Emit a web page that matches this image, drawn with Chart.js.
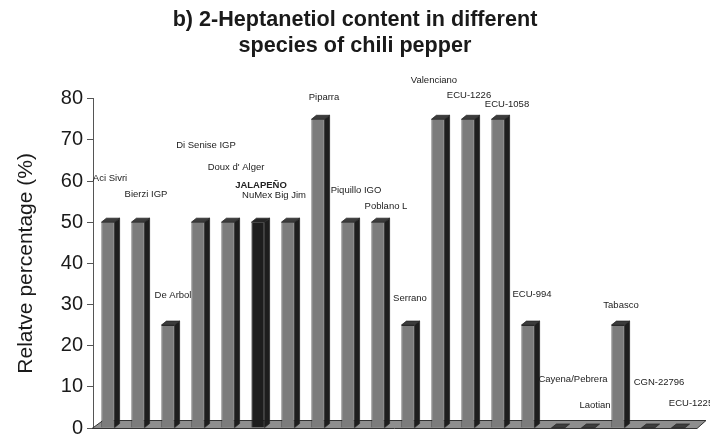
<!DOCTYPE html>
<html>
<head>
<meta charset="utf-8">
<script src="https://cdn.jsdelivr.net/npm/chart.js@4.4.0/dist/chart.umd.min.js"></script>
<style>
  html, body { margin: 0; padding: 0; background: #fff; }
  #wrap { width: 710px; height: 434px; }
</style>
</head>
<body>
<div id="wrap"><canvas id="chili"></canvas></div>
<script>
const varieties = ['Aci Sivri', 'Bierzi IGP', 'De Arbol', 'Di Senise IGP', "Doux d' Alger", 'JALAPEÑO',
  'NuMex Big Jim', 'Piparra', 'Piquillo IGO', 'Poblano L', 'Serrano', 'Valenciano', 'ECU-1226',
  'ECU-1058', 'ECU-994', 'Cayena/Pebrera', 'Laotian', 'Tabasco', 'CGN-22796', 'ECU-1225'];
const heptanetiol = [50, 50, 25, 50, 50, 50, 50, 75, 50, 50, 25, 75, 75, 75, 25, 0, 0, 25, 0, 0];
const yTickValues = [0, 10, 20, 30, 40, 50, 60, 70, 80];
const highlighted = 'JALAPEÑO';

// name labels float at their own heights (y-scale units) with a small sideways nudge (px)
const nameLevel = [60.6, 56.7, 32.1, 68.6, 63.3, 58.9, 56.4, 80.3, 57.7, 53.8,
  31.6, 84.4, 80.8, 78.6, 32.4, 11.7, 5.6, 29.9, 11.2, 6.1];
const nameShift = [2, 8, 5, 8, 8, 3, -14, 6, 8, 8, 2, -4, 1, 9, 4, 15, 7, 3, 11, 13];

const FONT = '"Liberation Sans", Arial, Helvetica, sans-serif';
const FRONT = '#7c7c7c', SIDE = '#1e1e1e', LID = '#3c3c3c', EDGE = '#2a2a2a';
const DX = 5, DY = 4;

// fake 3D: floor slab under the bars, then side and lid faces on each column
const box3d = {
  id: 'box3d',
  beforeDatasetsDraw(chart) {
    const { ctx, chartArea: a } = chart;
    const base = chart.scales.y.getPixelForValue(0);
    ctx.save();
    ctx.beginPath();
    ctx.moveTo(a.left - 1, base + 0.5);
    ctx.lineTo(a.left + 10, base - 7.5);
    ctx.lineTo(a.right + 13, base - 7.5);
    ctx.lineTo(a.right + 4, base + 0.5);
    ctx.closePath();
    ctx.fillStyle = '#8e8e8e';
    ctx.fill();
    ctx.strokeStyle = '#333';
    ctx.lineWidth = 1;
    ctx.stroke();
    ctx.restore();
  },
  afterDatasetsDraw(chart) {
    const ctx = chart.ctx;
    const meta = chart.getDatasetMeta(0);
    ctx.save();
    ctx.lineWidth = 0.8;
    ctx.strokeStyle = EDGE;
    ctx.lineJoin = 'round';
    meta.data.forEach((bar, i) => {
      const { x, y, base, width } = bar.getProps(['x', 'y', 'base', 'width'], true);
      const l = x - width / 2, r = x + width / 2;
      if (base - y > 0.5) {
        ctx.beginPath();
        ctx.moveTo(r, y);
        ctx.lineTo(r + DX, y - DY);
        ctx.lineTo(r + DX, base - DY);
        ctx.lineTo(r, base);
        ctx.closePath();
        ctx.fillStyle = SIDE;
        ctx.fill();
        ctx.stroke();
      }
      ctx.beginPath();
      ctx.moveTo(l, y);
      ctx.lineTo(l + DX, y - DY);
      ctx.lineTo(r + DX, y - DY);
      ctx.lineTo(r, y);
      ctx.closePath();
      ctx.fillStyle = varieties[i] === highlighted ? '#262626' : LID;
      ctx.fill();
      ctx.stroke();
    });
    ctx.restore();
  }
};

const names = {
  id: 'names',
  afterDraw(chart) {
    const ctx = chart.ctx;
    const yScale = chart.scales.y;
    const meta = chart.getDatasetMeta(0);
    ctx.save();
    ctx.fillStyle = '#222';
    ctx.textAlign = 'center';
    ctx.textBaseline = 'middle';
    varieties.forEach((name, i) => {
      ctx.font = (name === highlighted ? 'bold ' : '') + '9.5px ' + FONT;
      ctx.fillText(name, meta.data[i].x + nameShift[i], yScale.getPixelForValue(nameLevel[i]));
    });
    ctx.restore();
  }
};

new Chart(document.getElementById('chili').getContext('2d'), {
  type: 'bar',
  data: {
    labels: varieties,
    datasets: [{
      data: heptanetiol,
      backgroundColor: varieties.map(v => v === highlighted ? '#1e1e1e' : FRONT),
      borderColor: EDGE,
      borderWidth: 0.8,
      categoryPercentage: 1,
      barPercentage: 0.44
    }]
  },
  options: {
    responsive: true,
    maintainAspectRatio: false,
    animation: false,
    devicePixelRatio: 1,
    layout: { padding: { left: 17, right: 17, top: 0, bottom: 6 } },
    plugins: {
      legend: { display: false },
      tooltip: { enabled: false },
      title: {
        display: true,
        text: ['b) 2-Heptanetiol content in different', 'species of chili pepper'],
        color: '#1a1a1a',
        font: { family: FONT, size: 21.6, weight: 'bold', lineHeight: 1.22 },
        padding: { top: 7, bottom: 39 }
      }
    },
    scales: {
      x: { display: false },
      y: {
        min: 0,
        max: 80,
        afterBuildTicks(s) { s.ticks = yTickValues.map(v => ({ value: v })); },
        afterFit(s) { s.width = 76; s.paddingTop = 0; s.paddingBottom = 0; },
        grid: { drawOnChartArea: false, tickLength: 6, color: '#555', tickColor: '#555' },
        border: { display: true, color: '#555', width: 1 },
        ticks: { color: '#1a1a1a', padding: 4, font: { family: FONT, size: 20 } },
        title: {
          display: true,
          text: 'Relatve percentage (%)',
          color: '#1a1a1a',
          font: { family: FONT, size: 21, lineHeight: 0.86 },
          padding: { top: 0, bottom: 0 }
        }
      }
    }
  },
  plugins: [box3d, names]
});
</script>
</body>
</html>
